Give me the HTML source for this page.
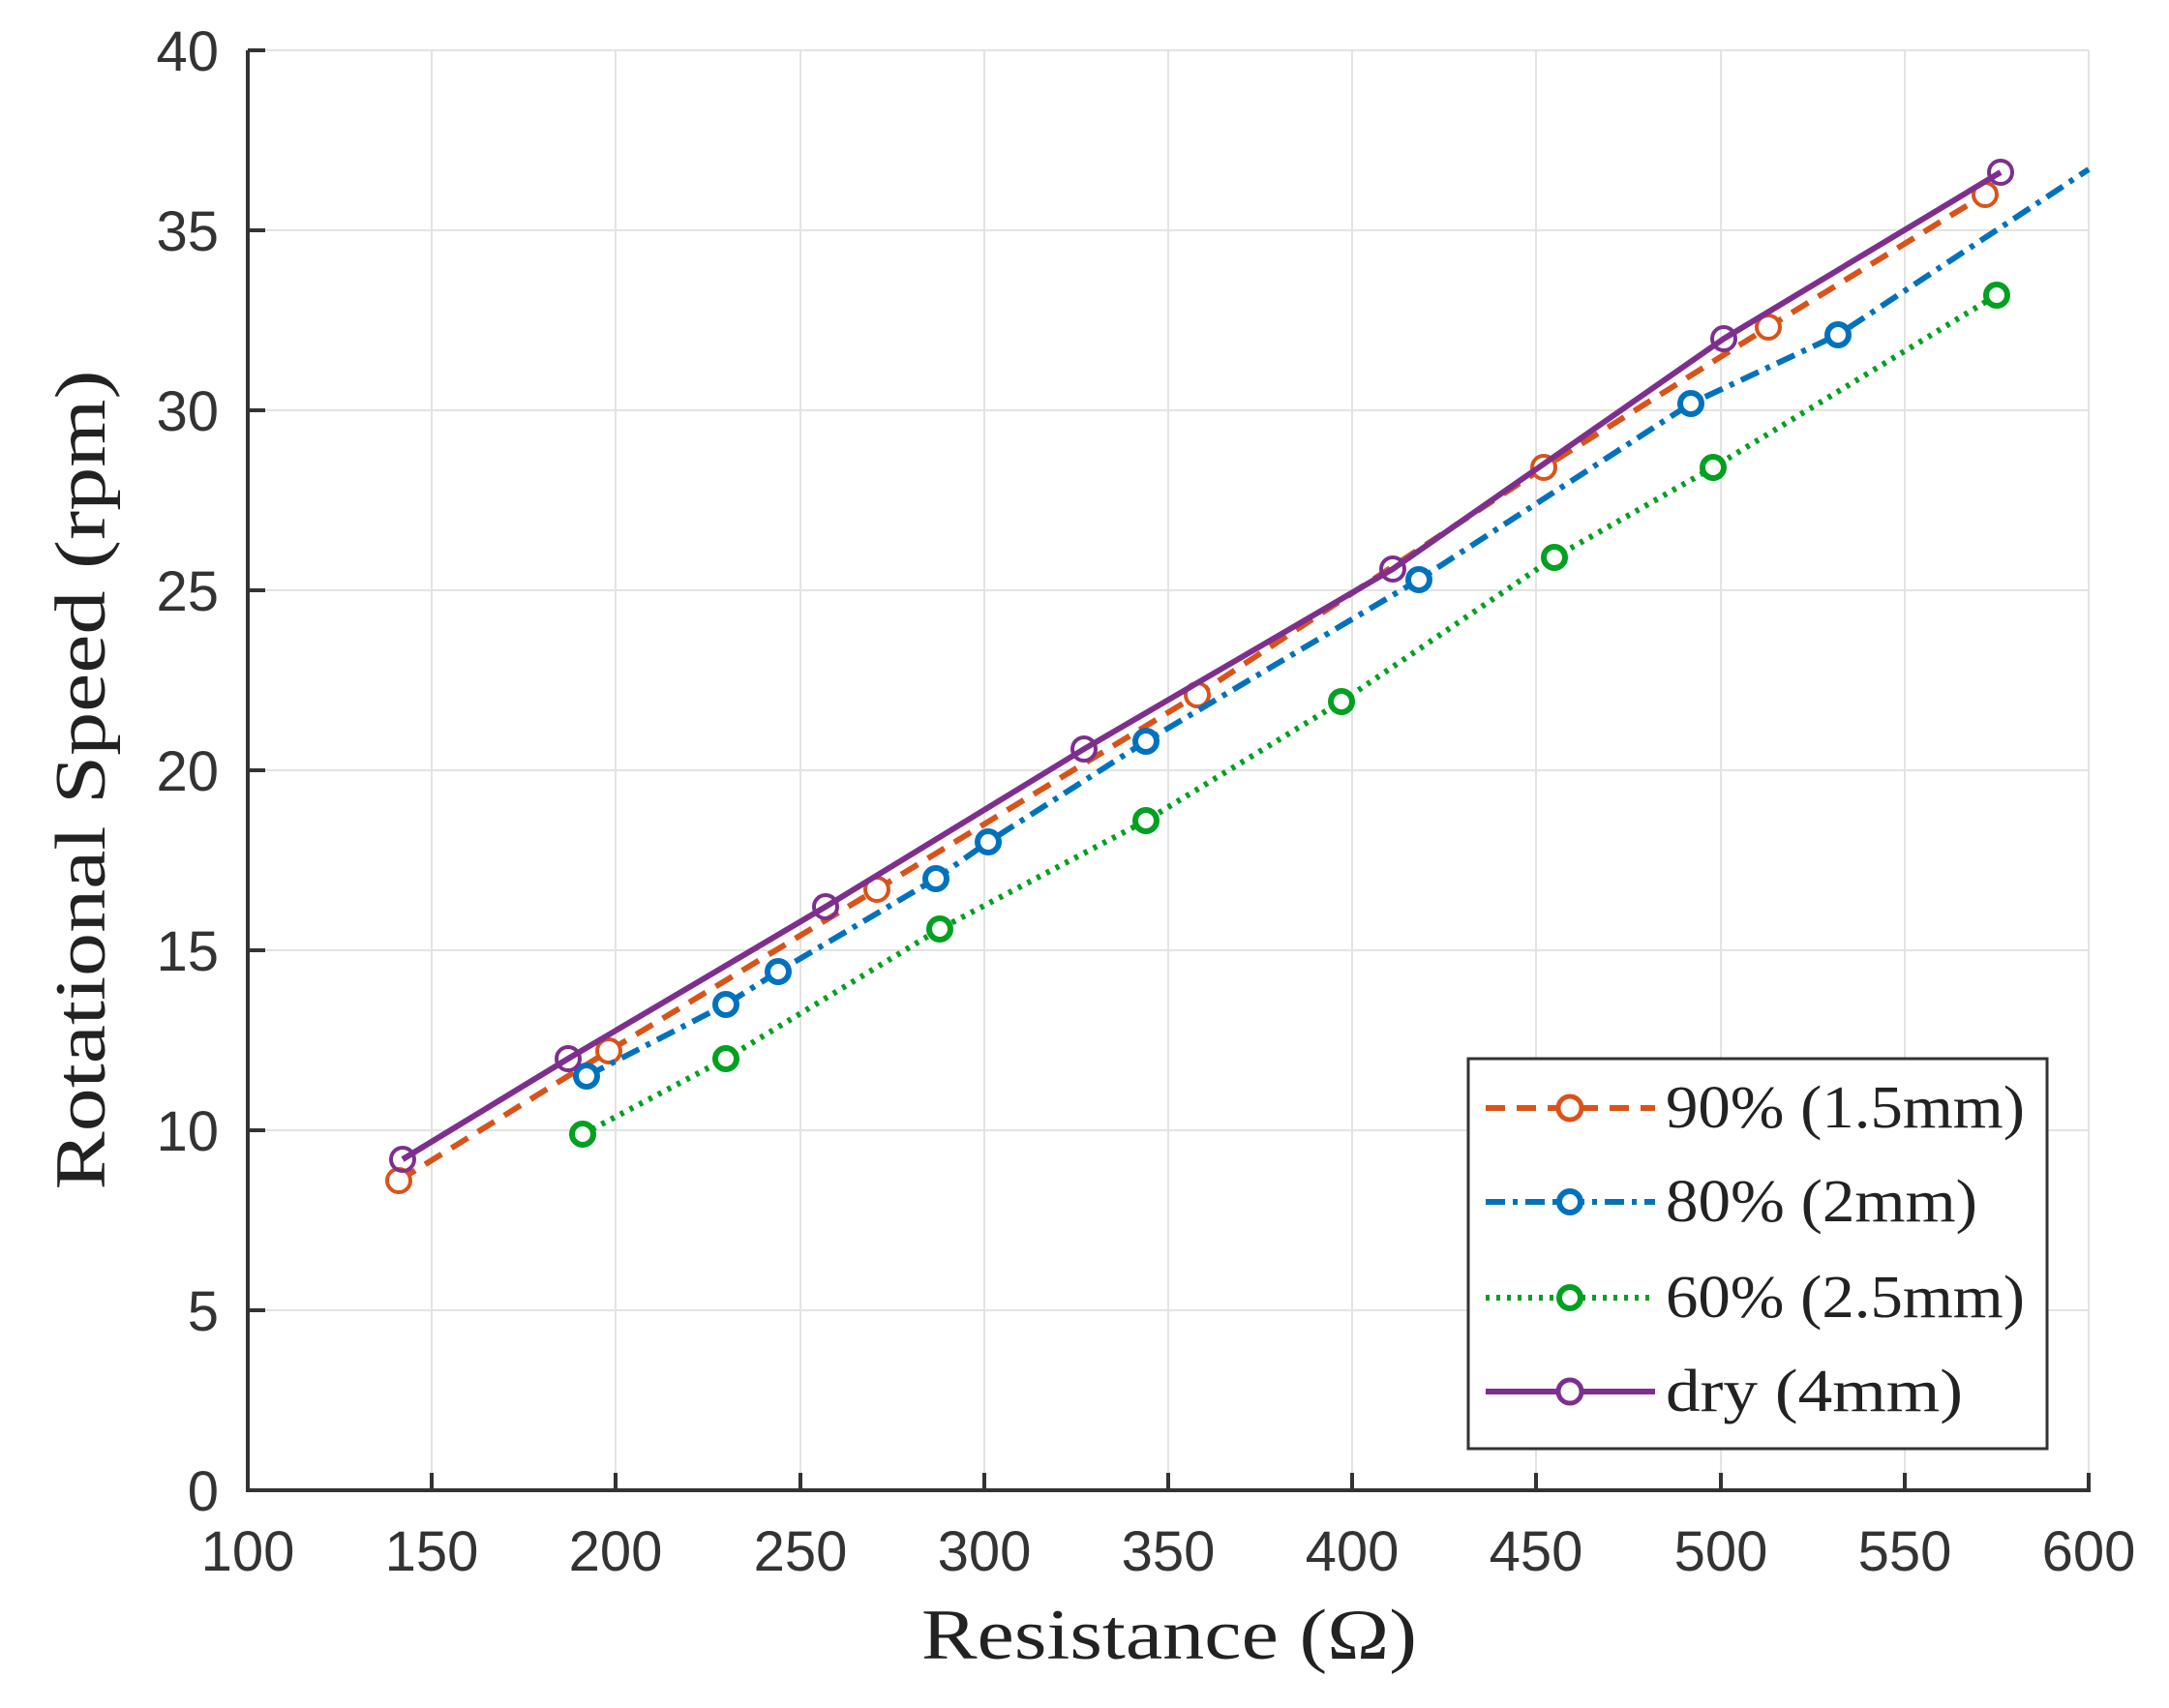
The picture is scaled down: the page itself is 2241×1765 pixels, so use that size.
<!DOCTYPE html>
<html><head><meta charset="utf-8"><style>html,body{margin:0;padding:0;background:#fff}svg{display:block}</style></head>
<body>
<svg width="2241" height="1765" viewBox="0 0 2241 1765" xmlns="http://www.w3.org/2000/svg">
<rect width="2241" height="1765" fill="#fff"/>
<g stroke="#e3e3e3" stroke-width="2">
<line x1="446" y1="52" x2="446" y2="1540"/><line x1="636" y1="52" x2="636" y2="1540"/><line x1="827" y1="52" x2="827" y2="1540"/><line x1="1017" y1="52" x2="1017" y2="1540"/><line x1="1207" y1="52" x2="1207" y2="1540"/><line x1="1397" y1="52" x2="1397" y2="1540"/><line x1="1587" y1="52" x2="1587" y2="1540"/><line x1="1778" y1="52" x2="1778" y2="1540"/><line x1="1968" y1="52" x2="1968" y2="1540"/><line x1="2158" y1="52" x2="2158" y2="1540"/>
<line x1="256" y1="52" x2="2158" y2="52"/><line x1="256" y1="238" x2="2158" y2="238"/><line x1="256" y1="424" x2="2158" y2="424"/><line x1="256" y1="610" x2="2158" y2="610"/><line x1="256" y1="796" x2="2158" y2="796"/><line x1="256" y1="982" x2="2158" y2="982"/><line x1="256" y1="1168" x2="2158" y2="1168"/><line x1="256" y1="1354" x2="2158" y2="1354"/>
</g>
<g stroke="#333" stroke-width="4" fill="none">
<polyline points="256,52 256,1540 2158,1540 2158,1522"/>
<path d="M446 1540v-18M636 1540v-18M827 1540v-18M1017 1540v-18M1207 1540v-18M1397 1540v-18M1587 1540v-18M1778 1540v-18M1968 1540v-18M256 52h18M256 238h18M256 424h18M256 610h18M256 796h18M256 982h18M256 1168h18M256 1354h18"/>
</g>
<g font-family="Liberation Sans, sans-serif" font-size="58" fill="#333" text-anchor="middle">
<text x="256" y="1623">100</text><text x="446" y="1623">150</text><text x="636" y="1623">200</text><text x="827" y="1623">250</text><text x="1017" y="1623">300</text><text x="1207" y="1623">350</text><text x="1397" y="1623">400</text><text x="1587" y="1623">450</text><text x="1778" y="1623">500</text><text x="1968" y="1623">550</text><text x="2158" y="1623">600</text>
</g>
<g font-family="Liberation Sans, sans-serif" font-size="58" fill="#333" text-anchor="end">
<text x="226" y="73">40</text><text x="226" y="259">35</text><text x="226" y="445">30</text><text x="226" y="631">25</text><text x="226" y="817">20</text><text x="226" y="1003">15</text><text x="226" y="1189">10</text><text x="226" y="1375">5</text><text x="226" y="1561">0</text>
</g>
<text x="1208" y="1714" font-family="Liberation Serif, serif" font-size="74" fill="#222" text-anchor="middle" textLength="512" lengthAdjust="spacingAndGlyphs">Resistance (Ω)</text>
<text transform="translate(108,806) rotate(-90)" font-family="Liberation Serif, serif" font-size="74" fill="#222" text-anchor="middle" textLength="847" lengthAdjust="spacingAndGlyphs">Rotational Speed (rpm)</text>
<g fill="none" stroke-width="6" stroke-linejoin="round">
<polyline stroke="#d95319" stroke-dasharray="20 12" points="412,1220 629,1086 906,919 1237,718 1595,483 1827,338 2051,201"/>
<g stroke="#d95319" stroke-width="4" fill="#fff"><circle cx="412" cy="1220" r="12"/><circle cx="629" cy="1086" r="12"/><circle cx="906" cy="919" r="12"/><circle cx="1237" cy="718" r="12"/><circle cx="1595" cy="483" r="12"/><circle cx="1827" cy="338" r="12"/><circle cx="2051" cy="201" r="12"/></g>
<polyline stroke="#0072bd" stroke-dasharray="20 8 5 8" points="606,1112 750,1038 804,1004 967,908 1021,870 1184,766 1466,599 1747,417 1899,346 2158,175"/>
<g stroke="#0072bd" stroke-width="6" fill="#fff"><circle cx="606" cy="1112" r="11"/><circle cx="750" cy="1038" r="11"/><circle cx="804" cy="1004" r="11"/><circle cx="967" cy="908" r="11"/><circle cx="1021" cy="870" r="11"/><circle cx="1184" cy="766" r="11"/><circle cx="1466" cy="599" r="11"/><circle cx="1747" cy="417" r="11"/><circle cx="1899" cy="346" r="11"/></g>
<polyline stroke="#00a020" stroke-dasharray="4 7" points="602,1172 750,1094 971,960 1184,848 1386,725 1606,576 1770,483 2063,305"/>
<g stroke="#00a020" stroke-width="6" fill="#fff"><circle cx="602" cy="1172" r="11"/><circle cx="750" cy="1094" r="11"/><circle cx="971" cy="960" r="11"/><circle cx="1184" cy="848" r="11"/><circle cx="1386" cy="725" r="11"/><circle cx="1606" cy="576" r="11"/><circle cx="1770" cy="483" r="11"/><circle cx="2063" cy="305" r="11"/></g>
<polyline stroke="#7e2f8e" points="416,1198 587,1094 853,937 1120,774 1439,588 1781,350 2067,178"/>
<g stroke="#7e2f8e" stroke-width="4" fill="none"><circle cx="416" cy="1198" r="12"/><circle cx="587" cy="1094" r="12"/><circle cx="853" cy="937" r="12"/><circle cx="1120" cy="774" r="12"/><circle cx="1439" cy="588" r="12"/><circle cx="1781" cy="350" r="12"/><circle cx="2067" cy="178" r="12"/></g>
</g>
<rect x="1517" y="1094" width="598" height="403" fill="#fff" stroke="#333" stroke-width="3"/>
<g fill="none" stroke-width="6">
<line x1="1535" y1="1145" x2="1710" y2="1145" stroke="#d95319" stroke-dasharray="20 12"/>
<circle cx="1622" cy="1145" r="12" stroke="#d95319" stroke-width="5" fill="#fff"/>
<line x1="1535" y1="1242" x2="1710" y2="1242" stroke="#0072bd" stroke-dasharray="20 8 5 8"/>
<circle cx="1622" cy="1242" r="11" stroke="#0072bd" stroke-width="6" fill="#fff"/>
<line x1="1535" y1="1341" x2="1710" y2="1341" stroke="#00a020" stroke-dasharray="4 7"/>
<circle cx="1622" cy="1341" r="11" stroke="#00a020" stroke-width="6" fill="#fff"/>
<line x1="1535" y1="1438" x2="1710" y2="1438" stroke="#7e2f8e"/>
<circle cx="1622" cy="1438" r="12" stroke="#7e2f8e" stroke-width="5" fill="#fff"/>
</g>
<g font-family="Liberation Serif, serif" font-size="62" fill="#222">
<text x="1721" y="1165" textLength="371" lengthAdjust="spacingAndGlyphs">90% (1.5mm)</text>
<text x="1721" y="1262" textLength="322" lengthAdjust="spacingAndGlyphs">80% (2mm)</text>
<text x="1721" y="1361" textLength="371" lengthAdjust="spacingAndGlyphs">60% (2.5mm)</text>
<text x="1721" y="1458" textLength="307" lengthAdjust="spacingAndGlyphs">dry (4mm)</text>
</g>
</svg>
</body></html>
